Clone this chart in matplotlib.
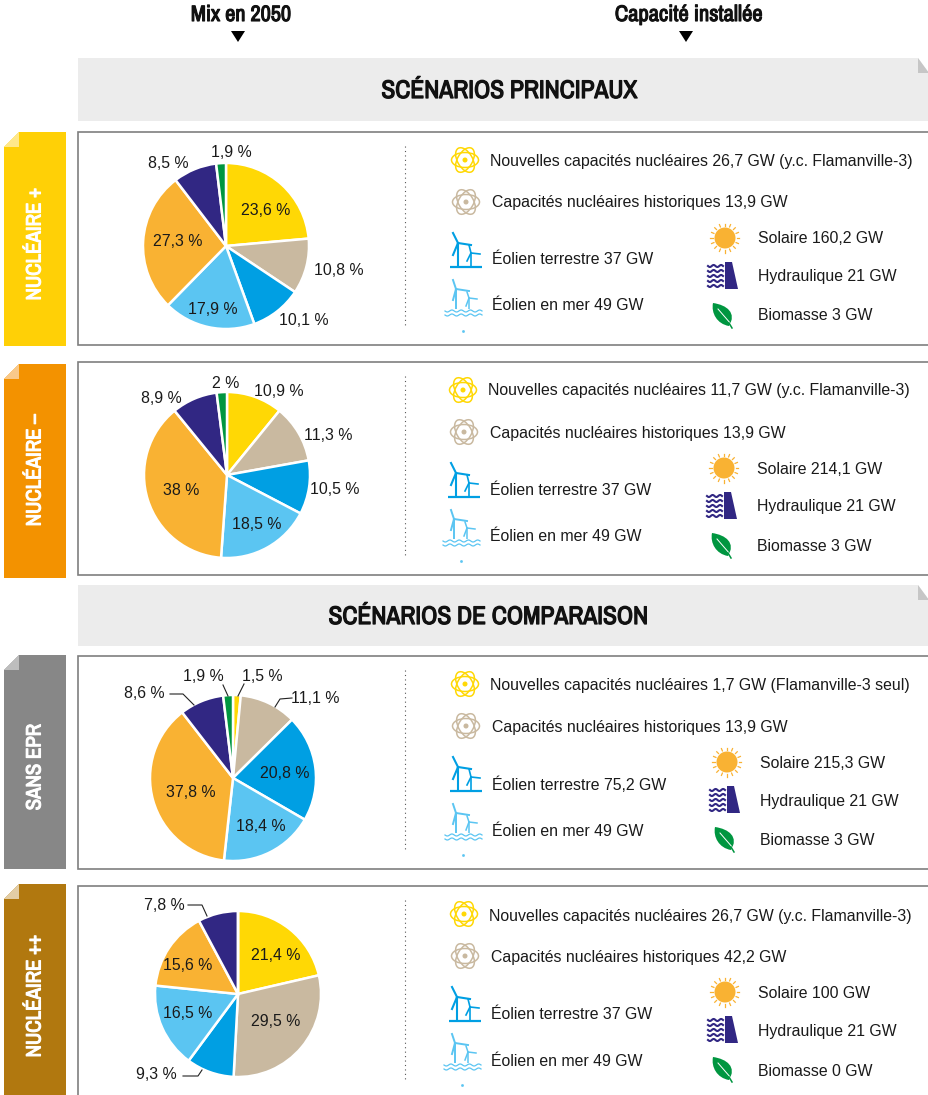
import numpy as np
import matplotlib
matplotlib.use("Agg")
import logging
import matplotlib.pyplot as plt
import matplotlib.patheffects as pe
from matplotlib.patches import Rectangle, Polygon, Circle, Ellipse, PathPatch
from matplotlib.path import Path

logging.getLogger("matplotlib.font_manager").setLevel(logging.ERROR)

NARROW = ["Archivo Narrow", "Roboto Condensed", "Liberation Sans Narrow", "Roboto"]
BODY = "Liberation Sans"
LABEL_SIZE = 11.4

# scenario names and pie shares (%), same slice order everywhere
scenarios = ["NUCLÉAIRE +", "NUCLÉAIRE –", "SANS EPR", "NUCLÉAIRE ++"]
new_nuclear = [23.6, 10.9, 1.5, 21.4]
old_nuclear = [10.8, 11.3, 11.1, 29.5]
onshore = [10.1, 10.5, 20.8, 9.3]
offshore = [17.9, 18.5, 18.4, 16.5]
solar = [27.3, 38, 37.8, 15.6]
hydro = [8.5, 8.9, 8.6, 7.8]
biomass = [1.9, 2, 1.9, 0]

# installed capacity, GW
cap_new = [26.7, 11.7, 1.7, 26.7]
cap_new_note = ["y.c. Flamanville-3", "y.c. Flamanville-3", "Flamanville-3 seul", "y.c. Flamanville-3"]
cap_old = [13.9, 13.9, 13.9, 42.2]
cap_onshore = [37, 37, 75.2, 37]
cap_offshore = [49, 49, 49, 49]
cap_solar = [160.2, 214.1, 215.3, 100]
cap_hydro = [21, 21, 21, 21]
cap_biomass = [3, 3, 3, 0]

slice_colors = ["#FFD805", "#C9B9A0", "#009FE3", "#5BC5F2", "#F9B233", "#312783", "#009640"]
tab_colors = ["#FFD006", "#F39200", "#878787", "#B1780F"]
tab_fold = ["#FFE88A", "#F9C98A", "#BDBDBD", "#E3CDA5"]

# layout, in pixels of the picture
panel_tops = [132, 362, 656, 886]
panel_height = 213
tab_tops = [132, 364, 655, 884]
pie_centers = [(226, 246), (227, 475), (233, 778), (238, 994)]
pie_radius = 83
text_x = [490, 488, 490, 489]
right_x = [758, 757, 760, 758]
text_y = [
    [160, 201, 258, 304, 237, 275, 314],
    [389, 432, 489, 535, 468, 505, 545],
    [684, 726, 783, 830, 762, 800, 839],
    [915, 956, 1013, 1060, 992, 1030, 1070],
]
tab_text_y = [244, 470, 767, 996]
label_pos = [
    [(266, 209), (339, 269), (304, 319), (213, 308), (178, 240), (168, 162), (231, 151)],
    [(279, 390), (328, 434), (335, 488), (257, 523), (181, 489), (161, 397), (226, 382)],
    [(262, 675), (315, 697), (285, 772), (261, 825), (191, 791), (144, 692), (203, 675)],
    [(276, 954), (276, 1020), (156, 1073), (188, 1012), (188, 964), (164, 904), None],
]
leaders = [
    [(170, 694), (183, 694), (194, 705)],
    [(223, 685), (228, 696)],
    [(244, 684), (238, 696)],
    [(292, 698), (280, 699), (275, 707)],
    [(188, 905), (202, 905), (207, 916)],
    [(183, 1076), (198, 1076), (202, 1070)],
]


def fr(value):
    return f"{value:g}".replace(".", ",")


def bold_text(ax, x, y, s, size, color, stroke, **kw):
    # the narrow family only has a regular cut here, so thicken it with a stroke
    ax.text(x, y, s, family=NARROW, fontsize=size, color=color, ha="center", va="center",
            path_effects=[pe.withStroke(linewidth=stroke, foreground=color)], **kw)


def atom(ax, x, y, color):
    for angle in (0, 60, 120):
        ax.add_patch(Ellipse((x, y), 27, 15, angle=angle, fill=False, ec=color, lw=1.1))
    ax.add_patch(Circle((x, y), 1.8, color=color))


def turbine(ax, hub, foot, tips, color, lw):
    ax.plot([hub[0], hub[0]], [hub[1], foot], color=color, lw=lw, solid_capstyle="butt")
    for tip in tips:
        ax.plot([hub[0], tip[0]], [hub[1], tip[1]], color=color, lw=lw)


def waves(ax, x0, x1, y, color, lw, cycles=4):
    xs = np.linspace(x0, x1, 60)
    ax.plot(xs, y + 1.0 * np.sin((xs - x0) / (x1 - x0) * cycles * 2 * np.pi), color=color, lw=lw)


def draw_icons(ax, dx, dy, rx):
    # dy is the shift from the first panel, rx the shift of the right column
    atom(ax, 465 + dx, 160 + dy, "#FFD805")
    atom(ax, 466 + dx, 202 + dy, "#C9B9A0")

    blue = "#009FE3"
    turbine(ax, (458 + dx, 243 + dy), 266 + dy,
            [(453 + dx, 233 + dy), (471 + dx, 245 + dy), (453 + dx, 255 + dy)], blue, 1.5)
    turbine(ax, (471 + dx, 253 + dy), 266 + dy,
            [(469 + dx, 245 + dy), (480 + dx, 254 + dy), (467 + dx, 261 + dy)], blue, 1.2)
    ax.plot([450 + dx, 482 + dx], [266.5 + dy, 266.5 + dy], color=blue, lw=1.6, solid_capstyle="butt")

    light = "#5BC5F2"
    turbine(ax, (456 + dx, 289 + dy), 309 + dy,
            [(453 + dx, 280 + dy), (469 + dx, 291 + dy), (453 + dx, 300 + dy)], light, 1.4)
    turbine(ax, (469 + dx, 298 + dy), 309 + dy,
            [(467 + dx, 292 + dy), (477 + dx, 299 + dy), (466 + dx, 306 + dy)], light, 1.1)
    waves(ax, 445 + dx, 482 + dx, 311 + dy, light, 0.9)
    waves(ax, 445 + dx, 482 + dx, 315 + dy, light, 0.9)
    ax.plot([463 + dx], [331 + dy], marker="s", ms=0.9, color=light)

    # sun
    sx, sy = 725 + rx, 238 + dy
    ax.add_patch(Circle((sx, sy), 10.5, color="#F9B233", lw=0))
    for angle in np.arange(0, 360, 22.5):
        c, s = np.cos(np.radians(angle)), np.sin(np.radians(angle))
        ax.plot([sx + 12 * c, sx + 14.5 * c], [sy + 12 * s, sy + 14.5 * s], color="#F9B233", lw=0.9)

    # dam
    navy = "#312783"
    ax.add_patch(Polygon([(725 + rx, 262 + dy), (732 + rx, 262 + dy), (738 + rx, 289 + dy),
                          (725 + rx, 289 + dy)], closed=True, color=navy, lw=0))
    for wy in (266, 271, 276, 281, 286):
        waves(ax, 708 + rx, 723 + rx, wy + dy, navy, 1.5, cycles=2)

    # leaf
    x0, y0 = 713 + rx, 303 + dy
    leaf = Path([(x0, y0), (x0 + 14, y0 + 2), (x0 + 24, y0 + 10), (x0 + 16, y0 + 23),
                 (x0 + 4, y0 + 21), (x0 - 2, y0 + 10), (x0, y0)],
                [Path.MOVETO, Path.CURVE4, Path.CURVE4, Path.CURVE4, Path.CURVE4, Path.CURVE4, Path.CURVE4])
    ax.add_patch(PathPatch(leaf, fc="#009640", ec="none"))
    ax.plot([x0 + 5, x0 + 18], [y0 + 6, y0 + 21], color="white", lw=0.7)
    ax.plot([x0 + 16, x0 + 19], [y0 + 20, y0 + 25], color="#009640", lw=1.1)


def draw_band(ax, top, height, title, title_x):
    ax.add_patch(Polygon([(78, top), (918, top), (929, top + 15), (929, top + height), (78, top + height)],
                         closed=True, fc="#ECECEC", ec="none"))
    ax.add_patch(Polygon([(918, top), (929, top + 15), (918, top + 15)], closed=True, fc="#C6C6C6", ec="none"))
    bold_text(ax, title_x, top + height / 2 + 1, title, 18.3, "#111111", 0.9)


def draw_panel(ax, i):
    top = panel_tops[i]
    tab = tab_tops[i]
    ax.add_patch(Rectangle((78, top), 870, panel_height, fc="white", ec="#7F7F7F", lw=1.2))
    ax.add_patch(Polygon([(19, tab), (66, tab), (66, tab + panel_height + 1), (4, tab + panel_height + 1),
                          (4, tab + 15)], closed=True, fc=tab_colors[i], ec="none"))
    ax.add_patch(Polygon([(19, tab), (19, tab + 15), (4, tab + 15)], closed=True, fc=tab_fold[i], ec="none"))
    bold_text(ax, 35, tab_text_y[i], scenarios[i], 15, "white", 0.8, rotation=90)
    ax.plot([405, 405], [top + 14, top + 195], color="#555555", lw=0.8, ls=(0, (1, 3)))

    values = [new_nuclear[i], old_nuclear[i], onshore[i], offshore[i], solar[i], hydro[i], biomass[i]]
    ax.pie(values, colors=slice_colors, center=pie_centers[i], radius=pie_radius, startangle=-90,
           counterclock=True, wedgeprops=dict(edgecolor="white", linewidth=1.8))
    for value, pos in zip(values, label_pos[i]):
        if pos is not None:
            ax.text(pos[0], pos[1] + 1.5, f"{fr(value)} %", family=BODY, fontsize=LABEL_SIZE,
                    ha="center", va="center", color="#1A1A1A")

    ys = text_y[i]
    tx = text_x[i]
    rx = right_x[i]
    lines = [
        (tx, ys[0], f"Nouvelles capacités nucléaires {fr(cap_new[i])} GW ({cap_new_note[i]})"),
        (tx + 2, ys[1], f"Capacités nucléaires historiques {fr(cap_old[i])} GW"),
        (tx + 2, ys[2], f"Éolien terrestre {fr(cap_onshore[i])} GW"),
        (tx + 2, ys[3], f"Éolien en mer {fr(cap_offshore[i])} GW"),
        (rx, ys[4], f"Solaire {fr(cap_solar[i])} GW"),
        (rx, ys[5], f"Hydraulique {fr(cap_hydro[i])} GW"),
        (rx, ys[6], f"Biomasse {fr(cap_biomass[i])} GW"),
    ]
    for x, y, s in lines:
        ax.text(x, y + 1.5, s, family=BODY, fontsize=LABEL_SIZE, ha="left", va="center", color="#1A1A1A")
    draw_icons(ax, tx - 490, top - 132, rx - 758)


fig = plt.figure(figsize=(9.29, 10.95), dpi=100)
ax = fig.add_axes([0, 0, 1, 1])

bold_text(ax, 241, 15, "Mix en 2050", 16, "#111111", 0.8)
bold_text(ax, 689, 15, "Capacité installée", 16.2, "#111111", 0.8)
for x in (238, 686):
    ax.add_patch(Polygon([(x - 7, 31), (x + 7, 31), (x, 42)], closed=True, fc="black", ec="none"))

draw_band(ax, 58, 63, "SCÉNARIOS PRINCIPAUX", 509)
draw_band(ax, 585, 61, "SCÉNARIOS DE COMPARAISON", 488)

for i in range(len(scenarios)):
    draw_panel(ax, i)

for pts in leaders:
    ax.plot([p[0] for p in pts], [p[1] for p in pts], color="#222222", lw=0.8)

# pie() resets the limits, so the pixel frame goes last
ax.set_xlim(0, 929)
ax.set_ylim(1095, 0)
ax.set_aspect("auto")
ax.axis("off")

fig.savefig("out.png", dpi=100)
